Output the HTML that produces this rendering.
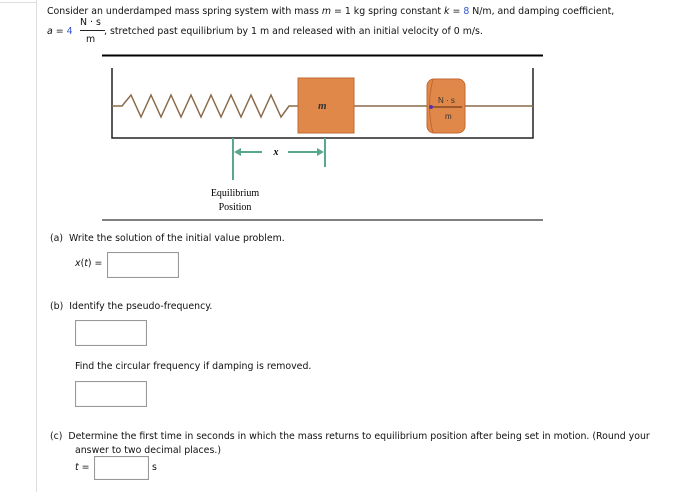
<!DOCTYPE html>
<html><head><style>
body{margin:0;width:678px;height:492px;background:#fff;position:relative;overflow:hidden;font-family:"DejaVu Sans","Liberation Sans",sans-serif;font-size:9.4px;color:#111}
.t{position:absolute;white-space:nowrap}
.box{position:absolute;border:1px solid #999;background:#fff;box-shadow:inset 0 0 1px #ccc}
.b{color:#3355cc}
</style></head><body>
<div style="position:absolute;left:36px;top:0;width:1px;height:492px;background:#ddd"></div>
<div style="position:absolute;left:0;top:2px;width:36px;height:1px;background:#ddd"></div>
<div class="t" style="left:47px;top:6px">Consider an underdamped mass spring system with mass <i>m</i> = 1 kg spring constant <i>k</i> = <span class="b">8</span> N/m, and damping coefficient,</div>
<div class="t" style="left:47px;top:26px"><i>a</i> = <span class="b">4</span></div>
<div class="t" style="left:80px;top:17px">N · s</div>
<div style="position:absolute;left:80px;top:30px;width:25px;height:1px;background:#222"></div>
<div class="t" style="left:86px;top:34px">m</div>
<div class="t" style="left:104px;top:26px">, stretched past equilibrium by 1 m and released with an initial velocity of 0 m/s.</div>
<svg style="position:absolute;left:0;top:0" width="678" height="230">
<line x1="102" y1="55.5" x2="543" y2="55.5" stroke="#000" stroke-width="2"/>
<path d="M112 68 V138 H533 V68" fill="none" stroke="#222" stroke-width="1.5"/>
<polyline points="112,106 122,106 131,95 141,117 151,95 161,117 171,95 181,117 191,95 201,117 211,95 221,117 231,95 241,117 251,95 261,117 271,95 281,117 289,106 298,106" fill="none" stroke="#8a6a4a" stroke-width="1.5"/>
<line x1="354" y1="106" x2="533" y2="106" stroke="#8a6a4a" stroke-width="1.5"/>
<rect x="298" y="78" width="56" height="55" fill="#e0884a" stroke="#c06830"/>
<text x="318" y="109" font-family="Liberation Serif" font-style="italic" font-weight="bold" font-size="11" fill="#333">m</text>
<rect x="427" y="79" width="38" height="54" rx="7" fill="#e0884a" stroke="#c06830"/>
<path d="M433 79 Q426 106 433 133" fill="none" stroke="#c06830"/>
<line x1="433" y1="107" x2="462" y2="107" stroke="#5a2a10"/>
<text x="438" y="103" font-size="8" font-family="Liberation Sans" fill="#333">N · s</text>
<text x="445" y="119" font-size="8" font-family="Liberation Sans" fill="#333">m</text>
<circle cx="431" cy="107" r="2" fill="#5533aa"/>
<g stroke="#5aa88a" stroke-width="2" fill="#5aa88a">
<line x1="233" y1="138" x2="233" y2="180"/>
<line x1="325" y1="138" x2="325" y2="167"/>
<line x1="236" y1="152" x2="262" y2="152"/>
<line x1="288" y1="152" x2="322" y2="152"/>
<polygon points="234,152 241,148 241,156" stroke="none"/>
<polygon points="324,152 317,148 317,156" stroke="none"/>
</g>
<text x="276" y="155" font-family="Liberation Serif" font-style="italic" font-weight="bold" font-size="10" text-anchor="middle">x</text>
<text x="235" y="196" font-family="Liberation Serif" font-size="10" text-anchor="middle">Equilibrium</text>
<text x="235" y="210" font-family="Liberation Serif" font-size="10" text-anchor="middle">Position</text>
<line x1="102" y1="220" x2="543" y2="220" stroke="#000" stroke-width="1"/>
</svg>
<div class="t" style="left:50px;top:233px">(a)&nbsp;&nbsp;Write the solution of the initial value problem.</div>
<div class="t" style="left:75px;top:258px"><i>x</i>(<i>t</i>) =</div>
<div class="box" style="left:107px;top:252px;width:70px;height:24px"></div>
<div class="t" style="left:50px;top:301px">(b)&nbsp;&nbsp;Identify the pseudo-frequency.</div>
<div class="box" style="left:75px;top:320px;width:70px;height:24px"></div>
<div class="t" style="left:75px;top:361px">Find the circular frequency if damping is removed.</div>
<div class="box" style="left:75px;top:381px;width:70px;height:24px"></div>
<div class="t" style="left:50px;top:431px">(c)&nbsp;&nbsp;Determine the first time in seconds in which the mass returns to equilibrium position after being set in motion. (Round your</div>
<div class="t" style="left:75px;top:445px">answer to two decimal places.)</div>
<div class="t" style="left:75px;top:462px"><i>t</i> =</div>
<div class="box" style="left:94px;top:456px;width:53px;height:22px"></div>
<div class="t" style="left:152px;top:462px">s</div>
</body></html>
